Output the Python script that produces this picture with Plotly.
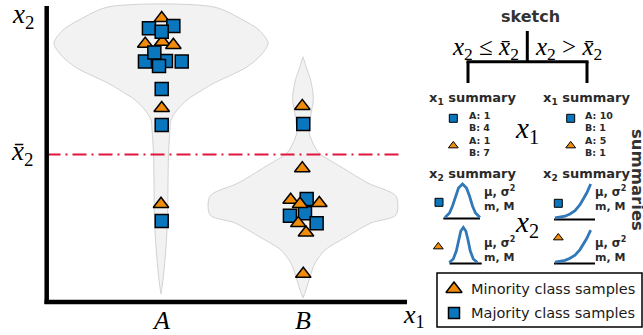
import plotly.graph_objects as go

W, H = 643, 335

# ---------------- data ----------------
categories = ["A", "B"]
xbar2 = 5.0  # split threshold on x2

# minority class samples (triangles): x = category index + jitter
minA_x = [0.005, -0.111, 0.009, 0.087, 0.005, 0.000]
minA_y = [9.62, 8.75, 8.82, 8.71, 6.57, 3.32]
minB_x = [0.995, 0.995, 0.913, 0.979, 1.115, 0.967, 1.021, 1.002]
minB_y = [6.64, 4.53, 3.46, 3.32, 3.35, 2.67, 2.35, 0.95]
# majority class samples (squares)
majA_x = [-0.085, 0.087, 0.005, 0.035, -0.113, 0.146, -0.047, -0.014, 0.005, 0.005, 0.005]
majA_y = [9.28, 9.36, 9.16, 8.17, 8.15, 8.15, 8.46, 8.00, 7.22, 6.00, 2.75]
majB_x = [1.002, 1.026, 0.908, 1.014, 1.096]
majB_y = [6.03, 3.49, 2.92, 3.01, 2.67]

# violin outlines (y value, half width in category units)
violinA_y = [10.0, 9.56, 9.22, 8.78, 8.37, 7.97, 7.69, 7.42, 7.12, 6.85, 6.51, 6.17, 5.83,
             5.05, 3.90, 2.78, 1.66, 0.75, 0.27]
violinA_hw = [0.373, 0.577, 0.690, 0.754, 0.704, 0.606, 0.493, 0.373, 0.268, 0.183, 0.113,
              0.070, 0.063, 0.053, 0.049, 0.046, 0.032, 0.014, 0.0]
violinB_y = [8.31, 7.86, 7.53, 7.19, 6.85, 6.51, 6.10, 5.73, 5.39, 5.05, 4.58, 4.03, 3.59,
             2.95, 2.68, 2.20, 1.76, 1.32, 0.85, 0.41, 0.14]
violinB_hw = [0.0, 0.030, 0.053, 0.067, 0.073, 0.061, 0.049, 0.044, 0.070, 0.113, 0.268,
              0.458, 0.655, 0.655, 0.479, 0.303, 0.155, 0.085, 0.049, 0.021, 0.0]

# schematic x2-summary curves (offset px, height px)
bell_wide_dx = [-17.5, -13, -10, -7, -4, 0, 4, 7, 10, 13, 17.5]
bell_wide_h = [0.5, 5, 12, 22, 30, 34, 30, 22, 12, 5, 0.5]
bell_narrow_dx = [-14, -10, -7, -4.5, -2.5, 0, 2.5, 4.5, 7, 10, 14]
bell_narrow_h = [0.5, 4, 12, 24, 32, 35.5, 32, 24, 12, 4, 0.5]
ramp_dx = [0, 10, 15, 20, 25, 29, 31.7, 35.7]
ramp_h = [1, 2.8, 5, 8.3, 14.3, 21.3, 26, 35]

legend_labels = ["Minority class samples", "Majority class samples"]

# ---------------- styles ----------------
BLUE = "#0a76bd"
ORANGE = "#f08c0a"
CURVE = "#3078b8"
TXT = "#2a2a2a"
SANS = "DejaVu Sans"
SERIF = "Liberation Serif"

# pixel mapping of main axes
X0, XS = 161.0, 142.0
Y0, YS = 302.0, 29.5
def xd(px): return (px - X0) / XS
def yd(py): return (Y0 - py) / YS

fig = go.Figure()

# violins
for c, vy, vhw in [(0, violinA_y, violinA_hw), (1, violinB_y, violinB_hw)]:
    xs = [c + h for h in vhw] + [c - h for h in vhw[::-1]]
    ys = list(vy) + list(vy[::-1])
    fig.add_trace(go.Scatter(x=xs + [xs[0]], y=ys + [ys[0]], mode="lines", fill="toself",
                             fillcolor="#f2f2f2", line=dict(color="#d2d2d2", width=1, shape="spline", smoothing=0.8),
                             hoverinfo="skip", showlegend=False))

# threshold line
fig.add_trace(go.Scatter(x=[xd(46.5), xd(403)], y=[xbar2, xbar2], mode="lines",
                         line=dict(color="#e0143c", width=2, dash="14px,5px,2px,5px"),
                         hoverinfo="skip", showlegend=False))

tri = dict(symbol="triangle-up", size=13.5, color=ORANGE, line=dict(color="black", width=1.5))
sq = dict(symbol="square", size=13, color=BLUE, line=dict(color="black", width=1.5))
fig.add_trace(go.Scatter(x=minA_x, y=minA_y, mode="markers", marker=tri, showlegend=False))
fig.add_trace(go.Scatter(x=majA_x, y=majA_y, mode="markers", marker=sq, showlegend=False))
fig.add_trace(go.Scatter(x=majB_x, y=majB_y, mode="markers", marker=sq, showlegend=False))
fig.add_trace(go.Scatter(x=minB_x, y=minB_y, mode="markers", marker=tri, showlegend=False))

# ---------------- right panel (pixel overlay axes) ----------------
def ov_line(xs, ys, color, width):
    fig.add_trace(go.Scatter(x=xs, y=ys, xaxis="x2", yaxis="y2", mode="lines",
                             line=dict(color=color, width=width), hoverinfo="skip", showlegend=False))

def ov_marker(x, y, m, size, lw=1):
    fig.add_trace(go.Scatter(x=[x], y=[y], xaxis="x2", yaxis="y2", mode="markers",
                             marker=dict(symbol=m["symbol"], size=size, color=m["color"],
                                         line=dict(color="black", width=lw)),
                             hoverinfo="skip", showlegend=False))

# summary icons
for x, y in [(453.3, 118.3), (570.7, 118.3), (439, 202.3), (558.3, 203.3)]:
    ov_marker(x, y, sq, 8)
for x, y in [(453.3, 145.7), (570.7, 145.7), (438.3, 246.7), (558.3, 237.7)]:
    ov_marker(x, y, tri, 8.5)

# x2 curves
ov_line([443.3, 480], [218.6, 218.6], "black", 2)
ov_line([462.5 + d for d in bell_wide_dx], [218 - h for h in bell_wide_h], CURVE, 2.8)
ov_line([449.5, 481.7], [263.6, 263.6], "black", 2)
ov_line([463.3 + d for d in bell_narrow_dx], [263 - h for h in bell_narrow_h], CURVE, 2.8)
ov_line([554, 595], [219.6, 219.6], "black", 2)
ov_line([555 + d for d in ramp_dx], [219 - h for h in ramp_h], CURVE, 2.8)
ov_line([554, 595], [263.6, 263.6], "black", 2)
ov_line([555 + d for d in ramp_dx], [263 - h * 0.94 for h in ramp_h], CURVE, 2.8)

# legend icons
ov_marker(454, 289, tri, 14, 1.5)
ov_marker(454, 313, sq, 11, 1.5)

shapes = []
def pline(x0, y0, x1, y1, w, color="black", ref=("x2", "y2")):
    shapes.append(dict(type="line", x0=x0, y0=y0, x1=x1, y1=y1, xref=ref[0], yref=ref[1],
                       line=dict(color=color, width=w), layer="above"))

# main axes
pline(xd(46.7), yd(304), xd(46.7), yd(6), 4.5, ref=("x", "y"))
pline(xd(44.5), 0, xd(407), 0, 4.5, ref=("x", "y"))
# tree
pline(527.3, 31, 527.3, 62, 3)
pline(466.5, 61.7, 588.5, 61.7, 3)
pline(468, 61.7, 468, 83, 3)
pline(587, 61.7, 587, 83, 3)
# legend box
shapes.append(dict(type="rect", x0=437, y0=273, x1=642, y1=327, xref="x2", yref="y2",
                   line=dict(color="black", width=1.5), fillcolor="white", layer="below"))

ann = []
def text(x, y, t, size, family=SANS, color=TXT, xanchor="center", angle=0, ref=("x2", "y2")):
    ann.append(dict(x=x, y=y, xref=ref[0], yref=ref[1], text=t, showarrow=False,
                    font=dict(family=family, size=size, color=color), xanchor=xanchor,
                    yanchor="middle", textangle=angle))

XB = "<i>x\u0304</i>"
# main plot labels
text(23, 16, "<i>x</i><sub>2</sub>", 27, SERIF, "black")
text(22, 153, XB + "<sub>2</sub>", 27, SERIF, "black")
for i, c in enumerate(categories):
    ann.append(dict(x=i, y=320, xref="x", yref="y2", text="<i>%s</i>" % c, showarrow=False,
                    font=dict(family=SERIF, size=26, color="black"), xanchor="center", yanchor="middle"))
text(414, 316, "<i>x</i><sub>1</sub>", 26, SERIF, "black")

# sketch panel
text(530, 16, "<b>sketch</b>", 16, color="#333333")
text(485, 48, "<i>x</i><sub>2</sub> ≤ " + XB + "<sub>2</sub>", 25, SERIF, "black")
text(568, 48, "<i>x</i><sub>2</sub> > " + XB + "<sub>2</sub>", 25, SERIF, "black")
for cx in (473, 587):
    text(cx, 98, "<b>x<sub>1</sub> summary</b>", 13)
    text(cx, 174, "<b>x<sub>2</sub> summary</b>", 13)

def counts(xs, ys, cat, above):
    return sum(1 for x, y in zip(xs, ys) if round(x) == cat and ((y > xbar2) == above))

all_maj_x, all_maj_y = majA_x + majB_x, majA_y + majB_y
all_min_x, all_min_y = minA_x + minB_x, minA_y + minB_y
for x0, above in [(467, False), (583, True)]:
    for j, c in enumerate(categories):
        text(x0, 115 + 12.5 * j, "<b>%s: %d</b>" % (c, counts(all_maj_x, all_maj_y, j, above)), 9.5, xanchor="left")
        text(x0, 140 + 12.5 * j, "<b>%s: %d</b>" % (c, counts(all_min_x, all_min_y, j, above)), 9.5, xanchor="left")

text(527, 130, "<i>x</i><sub>1</sub>", 29, SERIF, "black")
text(527, 224, "<i>x</i><sub>2</sub>", 29, SERIF, "black")
for x0 in (482, 593):
    for y0 in (191, 242):
        text(x0, y0, "<b>μ, σ<sup>2</sup></b>", 11.5, xanchor="left")
        text(x0, y0 + 15.5, "<b>m, M</b>", 11, xanchor="left")
text(638, 180, "<b>summaries</b>", 16.5, color="#333333", angle=90)

# legend text
text(469, 289, legend_labels[0], 14.5, color="#1a1a1a", xanchor="left")
text(469, 313, legend_labels[1], 14.5, color="#1a1a1a", xanchor="left")

fig.update_layout(
    width=W, height=H, autosize=False, margin=dict(l=0, r=0, t=0, b=0),
    paper_bgcolor="white", plot_bgcolor="white", showlegend=False,
    xaxis=dict(range=[xd(0), xd(W)], visible=False, domain=[0, 1], fixedrange=True),
    yaxis=dict(range=[yd(H), yd(0)], visible=False, domain=[0, 1], fixedrange=True),
    xaxis2=dict(range=[0, W], visible=False, overlaying="x", anchor="y2", fixedrange=True),
    yaxis2=dict(range=[H, 0], visible=False, overlaying="y", anchor="x2", fixedrange=True),
    shapes=shapes, annotations=ann,
)

fig.write_html("out.html")
